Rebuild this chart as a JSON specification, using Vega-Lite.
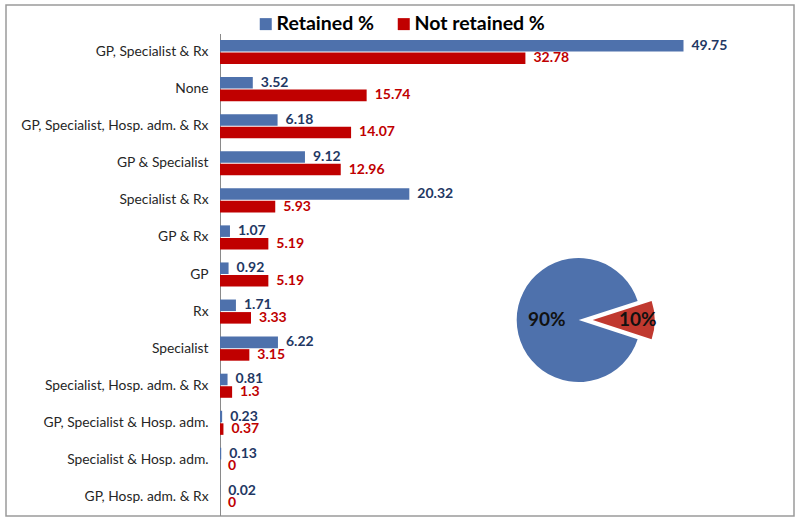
{
  "$schema": "https://vega.github.io/schema/vega-lite/v6.json",
  "width": 788,
  "height": 511,
  "autosize": {"type": "none"},
  "padding": {"left": 6, "top": 5, "right": 6, "bottom": 8},
  "config": {
    "view": {"stroke": "#9a9a9a", "strokeWidth": 1.5},
    "font": "Lato"
  },
  "datasets": {
    "bars": [
      {"cat": "GP, Specialist & Rx", "series": "Retained %", "value": 49.75},
      {"cat": "GP, Specialist & Rx", "series": "Not retained %", "value": 32.78},
      {"cat": "None", "series": "Retained %", "value": 3.52},
      {"cat": "None", "series": "Not retained %", "value": 15.74},
      {"cat": "GP, Specialist, Hosp. adm. & Rx", "series": "Retained %", "value": 6.18},
      {"cat": "GP, Specialist, Hosp. adm. & Rx", "series": "Not retained %", "value": 14.07},
      {"cat": "GP & Specialist", "series": "Retained %", "value": 9.12},
      {"cat": "GP & Specialist", "series": "Not retained %", "value": 12.96},
      {"cat": "Specialist & Rx", "series": "Retained %", "value": 20.32},
      {"cat": "Specialist & Rx", "series": "Not retained %", "value": 5.93},
      {"cat": "GP & Rx", "series": "Retained %", "value": 1.07},
      {"cat": "GP & Rx", "series": "Not retained %", "value": 5.19},
      {"cat": "GP", "series": "Retained %", "value": 0.92},
      {"cat": "GP", "series": "Not retained %", "value": 5.19},
      {"cat": "Rx", "series": "Retained %", "value": 1.71},
      {"cat": "Rx", "series": "Not retained %", "value": 3.33},
      {"cat": "Specialist", "series": "Retained %", "value": 6.22},
      {"cat": "Specialist", "series": "Not retained %", "value": 3.15},
      {"cat": "Specialist, Hosp. adm. & Rx", "series": "Retained %", "value": 0.81},
      {"cat": "Specialist, Hosp. adm. & Rx", "series": "Not retained %", "value": 1.3},
      {"cat": "GP, Specialist & Hosp. adm.", "series": "Retained %", "value": 0.23},
      {"cat": "GP, Specialist & Hosp. adm.", "series": "Not retained %", "value": 0.37},
      {"cat": "Specialist & Hosp. adm.", "series": "Retained %", "value": 0.13},
      {"cat": "Specialist & Hosp. adm.", "series": "Not retained %", "value": 0},
      {"cat": "GP, Hosp. adm. & Rx", "series": "Retained %", "value": 0.02},
      {"cat": "GP, Hosp. adm. & Rx", "series": "Not retained %", "value": 0}
    ],
    "pie": [
      {"series": "Retained %", "value": 90, "pct": "90%"},
      {"series": "Not retained %", "value": 10, "pct": "10%"}
    ]
  },
  "layer": [
    {
      "data": {"name": "bars"},
      "mark": {"type": "bar"},
      "encoding": {
        "y": {
          "field": "cat", "type": "nominal", "sort": null,
          "scale": {"range": [28.5, 510.5], "paddingInner": 0.35, "paddingOuter": 0.175},
          "axis": {
            "title": null, "offset": -214, "ticks": false, "labelPadding": 12,
            "labelFont": "Lato", "labelFontSize": 13.8, "labelColor": "#262626",
            "domainColor": "#8a8a8a", "domainWidth": 1, "labelLimit": 300
          }
        },
        "yOffset": {"field": "series", "type": "nominal", "sort": null, "scale": {"paddingInner": 0.08}},
        "x": {"field": "value", "type": "quantitative", "scale": {"domain": [0, 60], "range": [214, 773]}, "axis": null},
        "color": {
          "field": "series", "type": "nominal", "sort": null,
          "scale": {"domain": ["Retained %", "Not retained %"], "range": ["#4e71ac", "#c00000"]},
          "legend": {
            "title": null, "orient": "none", "direction": "horizontal",
            "legendX": 250, "legendY": 9, "padding": 0,
            "symbolType": "square", "symbolSize": 144, "symbolStrokeWidth": 0,
            "labelFont": "Lato", "labelFontSize": 19.5, "labelFontWeight": "bold", "labelColor": "#000000",
            "labelOffset": 1, "columnPadding": 20
          }
        }
      }
    },
    {
      "data": {"name": "bars"},
      "mark": {"type": "text", "align": "left", "baseline": "middle", "dx": 8, "fontSize": 14, "fontWeight": "bold", "font": "Lato"},
      "encoding": {
        "y": {"field": "cat", "type": "nominal", "sort": null},
        "yOffset": {"field": "series", "type": "nominal", "sort": null},
        "x": {"field": "value", "type": "quantitative"},
        "text": {"field": "value", "type": "nominal"},
        "color": {"condition": {"test": "datum.series === 'Retained %'", "value": "#1f3864"}, "value": "#c00000"}
      }
    },
    {
      "data": {"name": "pie"},
      "mark": {"type": "arc", "outerRadius": 62, "yOffset": 8.5},
      "encoding": {
        "theta": {"field": "value", "type": "quantitative", "stack": true, "scale": {"range": [1.885, 8.168]}},
        "order": {"field": "value", "sort": "descending"},
        "x": {"datum": 38.5, "type": "quantitative"},
        "y": {"datum": "Rx", "type": "nominal", "bandPosition": 0.5},
        "color": {"field": "series", "type": "nominal"},
        "fillOpacity": {"condition": {"test": "datum.series === 'Retained %'", "value": 1}, "value": 0}
      }
    },
    {
      "data": {"name": "pie"},
      "mark": {"type": "arc", "outerRadius": 62, "yOffset": 8.5, "xOffset": 14, "fill": "#c0392f"},
      "encoding": {
        "theta": {"field": "value", "type": "quantitative", "stack": true},
        "order": {"field": "value", "sort": "descending"},
        "x": {"datum": 38.5, "type": "quantitative"},
        "y": {"datum": "Rx", "type": "nominal", "bandPosition": 0.5},
        "fillOpacity": {"condition": {"test": "datum.series === 'Retained %'", "value": 0}, "value": 1}
      }
    },
    {
      "data": {"name": "pie"},
      "mark": {"type": "text", "radius": 32, "yOffset": 8.5, "fontSize": 19, "fontWeight": "bold", "font": "Lato", "color": "#111111", "align": "center", "baseline": "middle"},
      "encoding": {
        "theta": {"field": "value", "type": "quantitative", "stack": true},
        "order": {"field": "value", "sort": "descending"},
        "x": {"datum": 38.5, "type": "quantitative"},
        "y": {"datum": "Rx", "type": "nominal", "bandPosition": 0.5},
        "text": {"condition": {"test": "datum.series === 'Retained %'", "field": "pct"}, "value": ""}
      }
    },
    {
      "data": {"name": "pie"},
      "mark": {"type": "text", "radius": 45, "yOffset": 8.5, "xOffset": 14, "fontSize": 19, "fontWeight": "bold", "font": "Lato", "color": "#111111", "align": "center", "baseline": "middle"},
      "encoding": {
        "theta": {"field": "value", "type": "quantitative", "stack": true},
        "order": {"field": "value", "sort": "descending"},
        "x": {"datum": 38.5, "type": "quantitative"},
        "y": {"datum": "Rx", "type": "nominal", "bandPosition": 0.5},
        "text": {"condition": {"test": "datum.series === 'Retained %'", "value": ""}, "field": "pct"}
      }
    }
  ]
}
